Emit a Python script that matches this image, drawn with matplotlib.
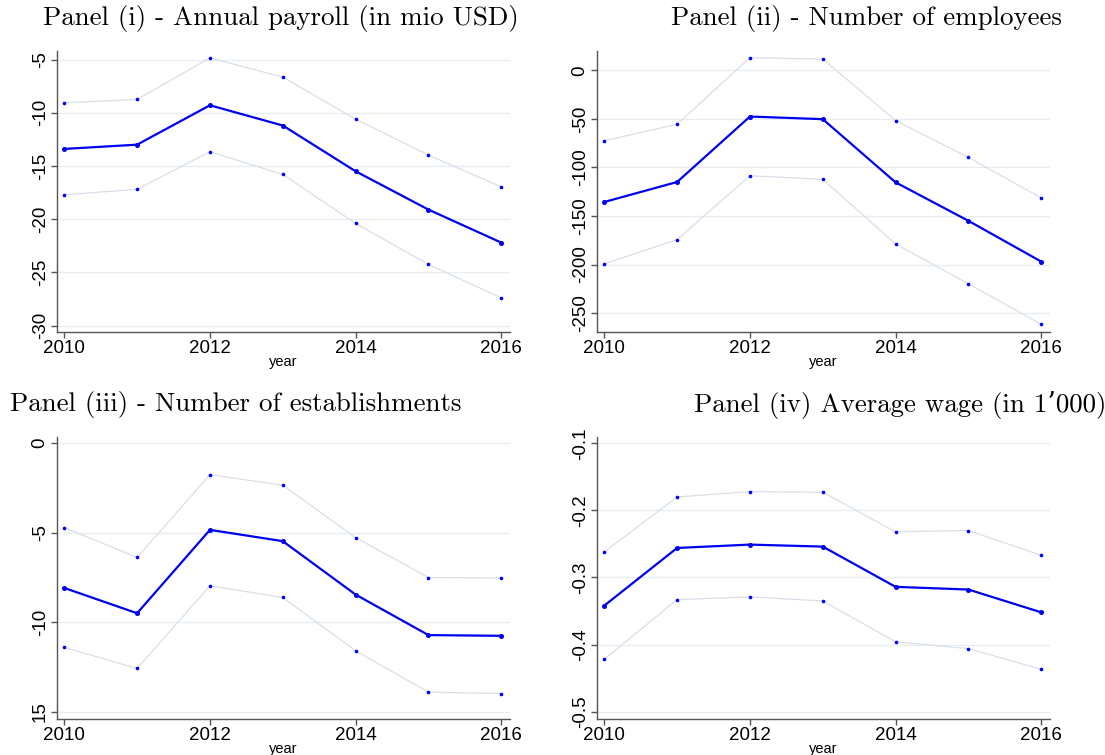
import matplotlib.pyplot as plt

# data
years = [2010, 2011, 2012, 2013, 2014, 2015, 2016]

payroll = [-13.4, -13.0, -9.3, -11.2, -15.5, -19.1, -22.2]
payroll_hi = [-9.06, -8.75, -4.85, -6.65, -10.6, -13.97, -16.97]
payroll_lo = [-17.7, -17.2, -13.66, -15.8, -20.4, -24.25, -27.4]

employees = [-135.6, -115.0, -47.6, -50.3, -115.4, -155.0, -197.0]
employees_hi = [-72.6, -55.5, 13.0, 11.6, -51.7, -89.7, -131.5]
employees_lo = [-199.3, -174.3, -108.6, -112.3, -178.8, -219.9, -261.6]

establishments = [-8.09, -9.5, -4.85, -5.48, -8.46, -10.72, -10.76]
establishments_hi = [-4.72, -6.39, -1.77, -2.36, -5.28, -7.51, -7.53]
establishments_lo = [-11.41, -12.58, -7.97, -8.62, -11.6, -13.9, -13.98]

wage = [-0.342, -0.256, -0.251, -0.254, -0.314, -0.318, -0.352]
wage_hi = [-0.262, -0.180, -0.172, -0.173, -0.232, -0.230, -0.267]
wage_lo = [-0.422, -0.333, -0.329, -0.335, -0.396, -0.406, -0.437]

titles = ["Panel (i) - Annual payroll (in mio USD)",
          "Panel (ii) - Number of employees",
          "Panel (iii) - Number of establishments",
          "Panel (iv) Average wage (in 1\u2019000)"]

yticks_i = [-5, -10, -15, -20, -25, -30]
yticks_ii = [0, -50, -100, -150, -200, -250]
yticks_iii = [0, -5, -10, -15]
ylabels_iii = ["0", "-5", "-10", "15"]
yticks_iv = [-0.1, -0.2, -0.3, -0.4, -0.5]
xticks = [2010, 2012, 2014, 2016]

W, H = 1105, 755
fig = plt.figure(figsize=(W / 100, H / 100), dpi=100)
fig.patch.set_facecolor("white")

def px_axes(left, top, right, bottom):
    return fig.add_axes([left / W, 1 - bottom / H, (right - left) / W, (bottom - top) / H])

def panel(ax, y, hi, lo, yticks, ylabels, ylim):
    ax.plot(years, hi, color="#d9dee8", lw=0.9, marker="o", ms=1.6,
            mfc="blue", mec="blue", zorder=2)
    ax.plot(years, lo, color="#d9dee8", lw=0.9, marker="o", ms=1.6,
            mfc="blue", mec="blue", zorder=2)
    ax.plot(years, y, color="#0000f0", lw=1.6, marker="o", ms=2.6,
            mfc="#0000f0", mec="#0000f0", zorder=3)
    ax.set_xlim(2009.9, 2016.12)
    ax.set_ylim(*ylim)
    ax.set_yticks(yticks)
    ax.set_yticklabels(ylabels if ylabels else [f"{v:g}" for v in yticks],
                       rotation=90, va="center", fontsize=13.5, family="Liberation Sans")
    ax.set_xticks(xticks)
    ax.set_xticklabels([str(v) for v in xticks], fontsize=13.5, family="Liberation Sans")
    for v in yticks:
        ax.axhline(v, color="#e6eef2", lw=0.9, zorder=1)
    for s in ["top", "right"]:
        ax.spines[s].set_visible(False)
    for s in ["left", "bottom"]:
        ax.spines[s].set_color("#555555")
        ax.spines[s].set_linewidth(1.0)
    ax.tick_params(direction="out", length=4, width=1.0, color="#555555", pad=2)
    ax.set_xlabel("year", fontsize=10.5, family="Liberation Sans", labelpad=-2)

ax1 = px_axes(57, 51, 510, 332)
panel(ax1, payroll, payroll_hi, payroll_lo, yticks_i, None, (-30.6, -4.2))
ax2 = px_axes(597, 51, 1050, 332)
panel(ax2, employees, employees_hi, employees_lo, yticks_ii, None, (-269.5, 19.9))
ax3 = px_axes(57, 437, 510, 719)
panel(ax3, establishments, establishments_hi, establishments_lo, yticks_iii, ylabels_iii, (-15.4, 0.33))
ax4 = px_axes(597, 437, 1050, 719)
panel(ax4, wage, wage_hi, wage_lo, yticks_iv, ["-0.1", "-0.2", "-0.3", "-0.4", "-0.5"], (-0.511, -0.0906))

tfont = dict(fontsize=19.4, family=["cmr10", "DejaVu Serif"], va="center", ha="center")
fig.text(281 / W, 1 - 19 / H, titles[0], **tfont)
fig.text(866 / W, 1 - 19 / H, titles[1], **tfont)
fig.text(236 / W, 1 - 405 / H, titles[2], **tfont)
fig.text(900 / W, 1 - 405 / H, titles[3], **tfont)

fig.savefig("out.png", dpi=100, facecolor="white")
